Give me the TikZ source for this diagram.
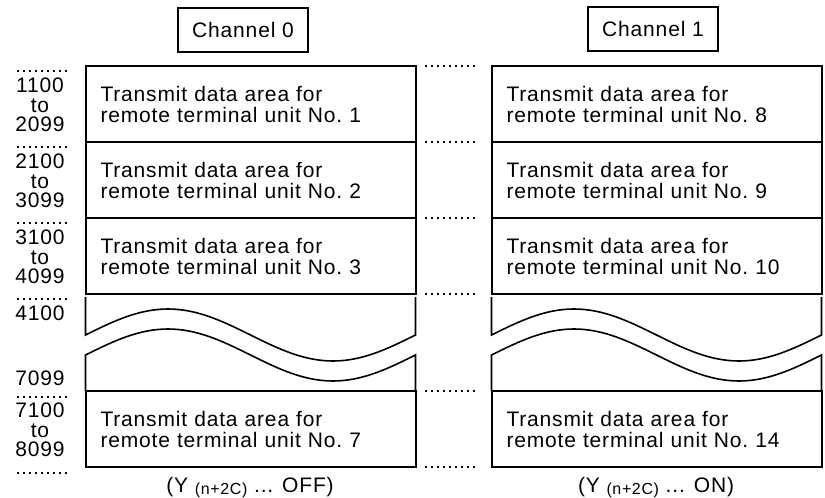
\documentclass[tikz,border=0pt]{standalone}
\usepackage{fontspec}
\setmainfont{Liberation Sans}[LetterSpace=4]
\usetikzlibrary{positioning}
\tikzset{
  area/.style={draw, line width=1pt, align=left, text width=150pt, inner xsep=7.5pt, inner ysep=0pt, minimum height=38pt, outer sep=0pt, font=\fontsize{10.5}{10.5}\selectfont},
  chbox/.style={draw, line width=0.6pt, minimum width=65pt, minimum height=22pt, font=\fontsize{10.5}{12}\selectfont},
  addr/.style={align=center, inner sep=0pt, font=\fontsize{10.5}{9.8}\selectfont},
  sel/.style={font=\fontsize{10.5}{12}\selectfont},
  sep/.style={line width=1.1pt, dash pattern=on 0.9pt off 2.1pt},
  wave/.style={line width=0.8pt}
}
\newcommand{\subidx}{\raisebox{-1pt}{\fontsize{8}{8}\selectfont(n+2C)}}

\begin{document}
\begin{tikzpicture}[x=0.5pt, y=-0.5pt]
  \useasboundingbox (0,0) rectangle (825,498);
  % channel headers
  \node[chbox] (ch0) at (243,30) {Channel 0};
  \node[chbox] (ch1) at (653,29) {Channel 1};
  % channel 0 areas
  \node[area] (a1) at (250.5,104) {Transmit data area for\\remote terminal unit No.\ 1};
  \node[area, below=0pt of a1] (a2) {Transmit data area for\\remote terminal unit No.\ 2};
  \node[area, below=0pt of a2] (a3) {Transmit data area for\\remote terminal unit No.\ 3};
  \node[area] (a7) at (250.5,429) {Transmit data area for\\remote terminal unit No.\ 7};
  % channel 1 areas
  \node[area] (b1) at (656.5,104) {Transmit data area for\\remote terminal unit No.\ 8};
  \node[area, below=0pt of b1] (b2) {Transmit data area for\\remote terminal unit No.\ 9};
  \node[area, below=0pt of b2] (b3) {Transmit data area for\\remote terminal unit No.\ 10};
  \node[area] (b7) at (656.5,429) {Transmit data area for\\remote terminal unit No.\ 14};
  % broken part
  \foreach \l in {85.5,491.5} {
    \draw[wave] (\l,297) -- ++(0,38) sin ++(82.5,-26) cos ++(82.5,26) sin ++(82.5,26) cos ++(82.5,-26) -- ++(0,-38);
    \draw[wave] (\l,391) -- ++(0,-36) sin ++(82.5,-26) cos ++(82.5,26) sin ++(82.5,26) cos ++(82.5,-26) -- ++(0,36);
  }
  % addresses
  \node[addr] (ad1) at (40,105) {1100\\to\\2099};
  \node[addr] (ad2) at (40,181) {2100\\to\\3099};
  \node[addr] (ad3) at (40,257) {3100\\to\\4099};
  \node[addr] (ad4) at (40,313) {4100};
  \node[addr] (ad5) at (40,378) {7099};
  \node[addr] (ad7) at (40,430) {7100\\to\\8099};
  \foreach \y in {71,147,223,299,397,473}
    \draw[sep] (17,\y) -- (70,\y);
  \foreach \y in {66,142,218,294,391,467}
    \draw[sep] (425,\y) -- (478,\y);
  % selection
  \node[sel] (off) at (250,488) {(Y \subidx{} ... OFF)};
  \node[sel] (on) at (656,488) {(Y \subidx{} ... ON)};
\end{tikzpicture}
\end{document}
